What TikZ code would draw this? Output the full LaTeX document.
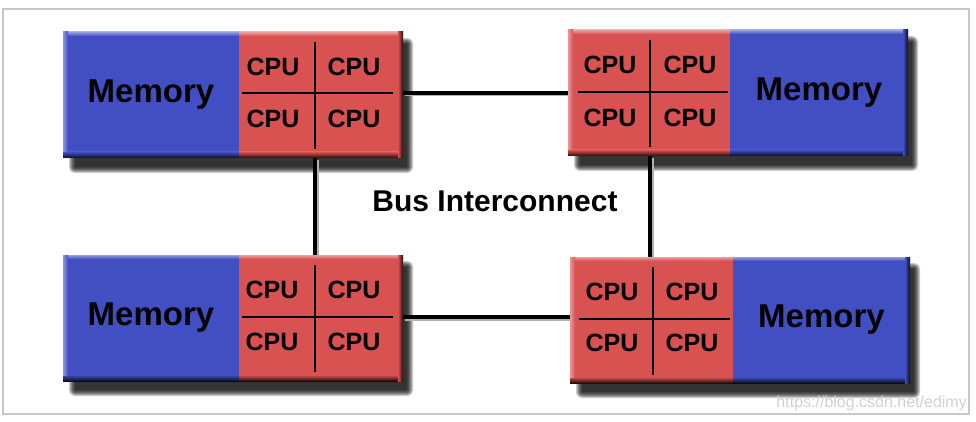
\documentclass[tikz,border=0pt]{standalone}
\usepackage{fontspec}
\setmainfont{Liberation Sans}
\usetikzlibrary{backgrounds,calc}
\definecolor{memblue}{RGB}{66,79,194}
\definecolor{cpured}{RGB}{217,82,82}
\definecolor{framegray}{RGB}{200,200,200}
\tikzset{
  memnode/.style={rectangle, fill=memblue, minimum height=126pt, inner sep=0pt, outer sep=0pt,
    font=\fontsize{33}{33}\selectfont\bfseries},
  cpunode/.style={rectangle, fill=cpured, minimum height=126pt, inner sep=0pt, outer sep=0pt},
  cpulbl/.style={font=\fontsize{25}{25}\selectfont\bfseries, inner sep=0pt},
  crossline/.style={line width=2.8pt, black},
  bus/.style={line width=3.5pt, black,
    preaction={draw=black!30, line width=3pt, transform canvas={xshift=2pt, yshift=-2pt}}},
}
\begin{document}
\begin{tikzpicture}[x=1pt,y=-1pt]
\useasboundingbox (0,0) rectangle (976,422);
\begin{pgfonlayer}{background}
\fill[white] (0,0) rectangle (976,422);
\end{pgfonlayer}
\draw[framegray, line width=2pt] (3,9) rectangle (969,414);

% blocks
\node[memnode, minimum width=176pt] (m1) at (151,95) {Memory};
\node[cpunode, minimum width=164pt] (c1) at (321,95) {};
\node[cpunode, minimum width=162pt] (c2) at (649,93) {};
\node[memnode, minimum width=178pt] (m2) at (819,93) {Memory};
\node[memnode, minimum width=176pt] (m3) at (151,318) {Memory};
\node[cpunode, minimum width=164pt] (c3) at (321,318) {};
\node[cpunode, minimum width=163pt] (c4) at (651.5,320) {};
\node[memnode, minimum width=177pt] (m4) at (821.5,320) {Memory};

% shadows
\begin{pgfonlayer}{background}
\foreach \a/\b in {m1/c1, c2/m2, m3/c3, c4/m4}{
  \foreach \k in {0,...,6}{
    \fill[black, opacity=0.2, rounded corners=\k pt]
      ([xshift={(12-\k)*1pt}, yshift={(\k-12)*1pt}]\a.north west) rectangle
      ([xshift={(4+\k)*1pt}, yshift={(-9-\k)*1pt}]\b.south east);
  }
}
\end{pgfonlayer}

% bevels
\foreach \n/\col in {m1/memblue, c1/cpured, c2/cpured, m2/memblue, m3/memblue, c3/cpured, c4/cpured, m4/memblue}{
  \shade[top color=\col!55!white, bottom color=\col] (\n.north west) rectangle ([yshift=-4pt]\n.north east);
  \shade[top color=\col, bottom color=\col!15!black] ([yshift=6pt]\n.south west) rectangle (\n.south east);
}
\foreach \n/\col in {m1/memblue, c2/cpured, m3/memblue, c4/cpured}{
  \shade[left color=\col!60!white, right color=\col] (\n.north west) rectangle ([xshift=5pt, yshift=6pt]\n.south west);
}
\foreach \n/\col in {c1/cpured, m2/memblue, c3/cpured, m4/memblue}{
  \shade[left color=\col, right color=\col!15!black] ([xshift=-5pt]\n.north east) rectangle (\n.south east);
}

% cross centres
\coordinate (x1) at (315,93);
\coordinate (x2) at (650,92);
\coordinate (x3) at (315,317);
\coordinate (x4) at (653,319);

% inner crosses
\draw[crossline] (315,42) -- (315,149);
\draw[crossline] (242,93) -- (393,93);
\draw[crossline] (650,40) -- (650,147);
\draw[crossline] (578,92) -- (728,92);
\draw[crossline] (315,265) -- (315,372);
\draw[crossline] (242,317) -- (393,317);
\draw[crossline] (653,267) -- (653,375);
\draw[crossline] (579,319) -- (730,319);

% CPU labels
\node[cpulbl] (c1a) at (273,67) {CPU};
\node[cpulbl] (c1b) at (354,67) {CPU};
\node[cpulbl] (c1c) at (273,119) {CPU};
\node[cpulbl] (c1d) at (354,119) {CPU};
\node[cpulbl] (c2a) at (610,65) {CPU};
\node[cpulbl] (c2b) at (690,65) {CPU};
\node[cpulbl] (c2c) at (610,118) {CPU};
\node[cpulbl] (c2d) at (690,118) {CPU};
\node[cpulbl] (c3a) at (272,290) {CPU};
\node[cpulbl] (c3b) at (354,290) {CPU};
\node[cpulbl] (c3c) at (272,342) {CPU};
\node[cpulbl] (c3d) at (354,342) {CPU};
\node[cpulbl] (c4a) at (612,292) {CPU};
\node[cpulbl] (c4b) at (692,292) {CPU};
\node[cpulbl] (c4c) at (612,343) {CPU};
\node[cpulbl] (c4d) at (692,343) {CPU};

% bus connectors
\draw[bus] (x1 -| c1.east) -- (x1 -| c2.west);
\draw[bus] (x3 -| c3.east) -- (x3 -| c4.west);
\draw[bus] (x1 |- c1.south) -- (x1 |- c3.north);
\draw[bus] (x2 |- c2.south) -- (x2 |- c4.north);

\node[font=\fontsize{30}{30}\selectfont\bfseries, inner sep=0pt] (bus) at (495,201) {Bus Interconnect};
\node[font=\fontsize{16}{16}\selectfont, text=black!18, anchor=east, inner sep=0pt] (wm) at (967,403) {https://blog.csdn.net/edimy};
\end{tikzpicture}
\end{document}
